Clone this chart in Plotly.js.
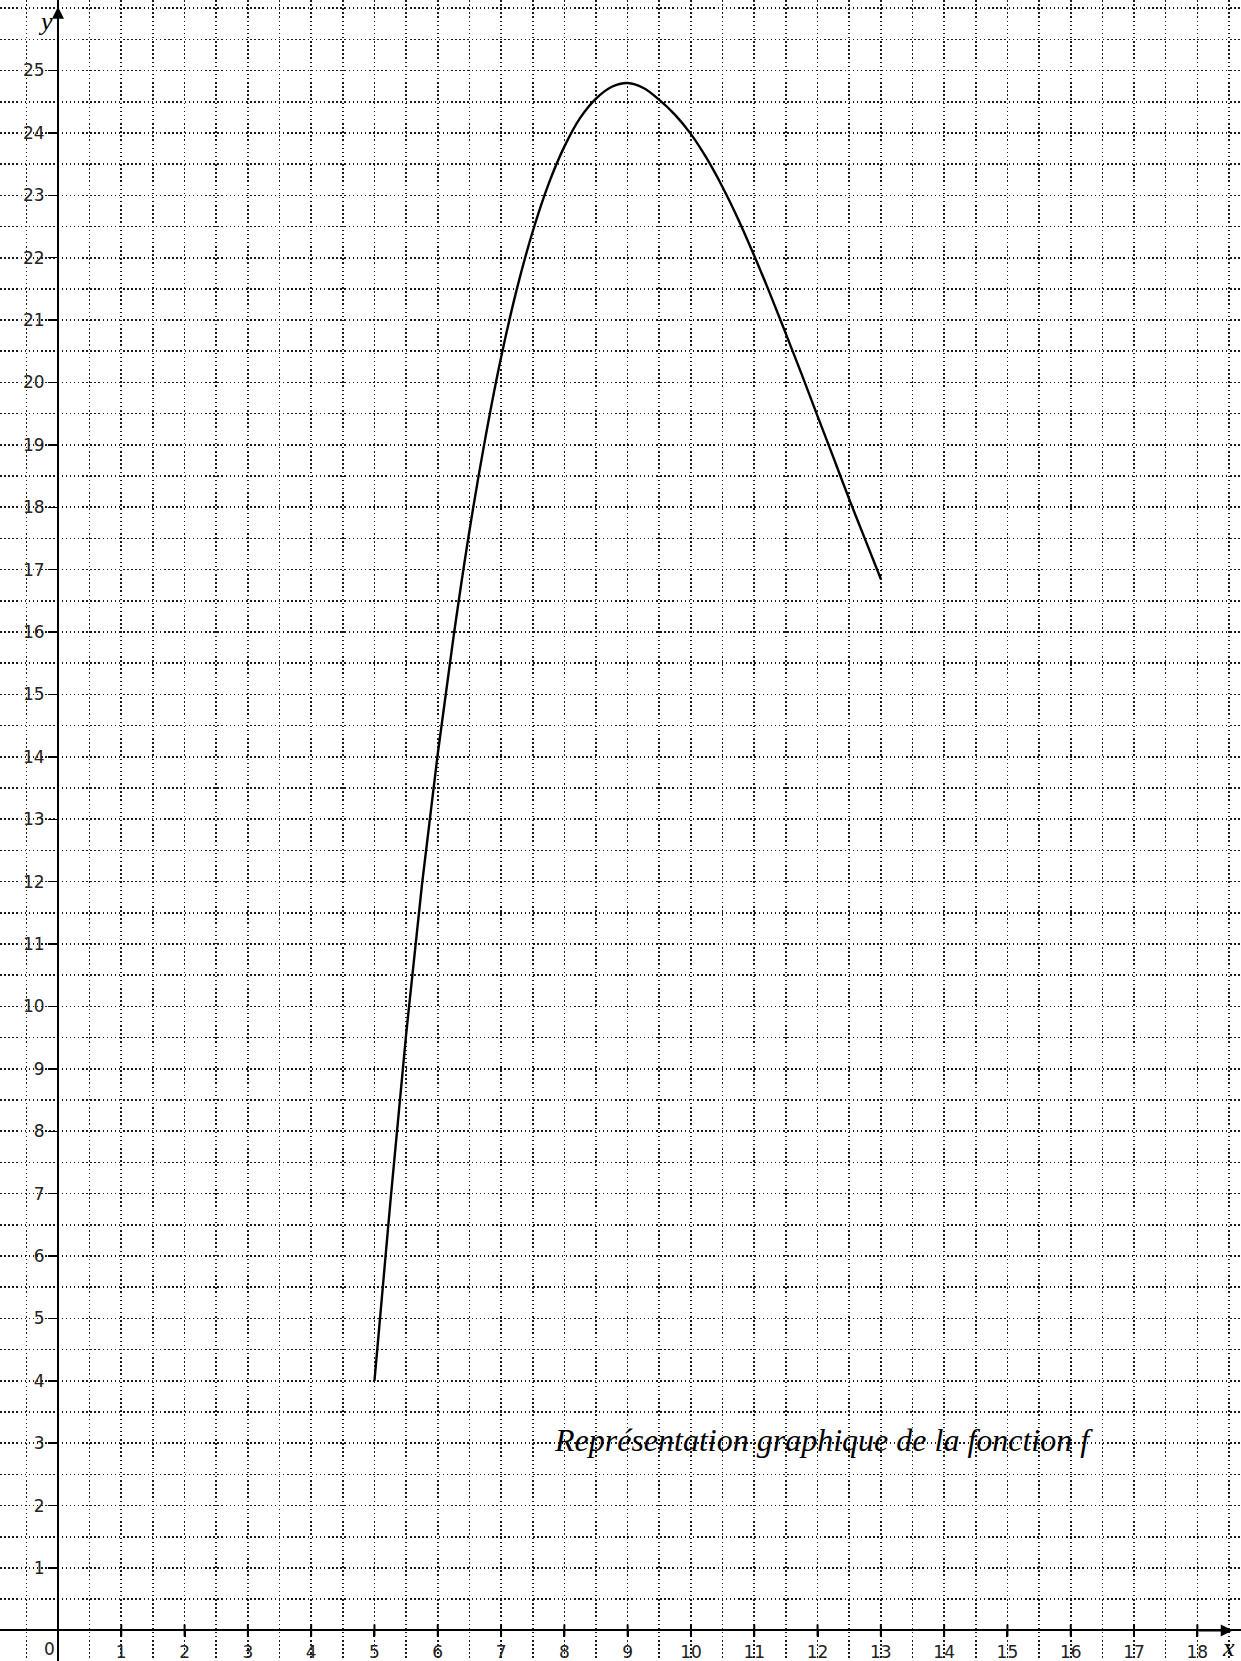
<!DOCTYPE html>
<html>
<head>
<meta charset="utf-8">
<script src="https://cdn.plot.ly/plotly-3.0.1.min.js"></script>
<style>html,body{margin:0;padding:0;background:#fff;}</style>
</head>
<body>
<div id="chart" style="width:1241px;height:1661px;"></div>
<script>
// Curve of f
const xVals = [5, 5.25, 5.5, 5.75, 6, 6.25, 6.5, 6.75, 7, 7.25, 7.5, 7.75, 8, 8.25, 8.5, 8.75, 9, 9.25, 9.5, 9.75, 10, 10.25, 10.5, 10.75, 11, 11.25, 11.5, 11.75, 12, 12.25, 12.5, 12.75, 13];
const yVals = [4.0, 6.85, 9.55, 11.95, 14.05, 15.93, 17.62, 19.1, 20.4, 21.5, 22.42, 23.18, 23.78, 24.24, 24.55, 24.74, 24.8, 24.72, 24.53, 24.29, 23.98, 23.59, 23.13, 22.61, 22.03, 21.42, 20.78, 20.13, 19.46, 18.8, 18.13, 17.49, 16.85];

// Tick labels
const xTickVals = [1,2,3,4,5,6,7,8,9,10,11,12,13,14,15,16,17,18];
const xTickText = xTickVals.map(String);
const yTickVals = [1,2,3,4,5,6,7,8,9,10,11,12,13,14,15,16,17,18,19,20,21,22,23,24,25];
const yTickText = yTickVals.map(String);
const originLabel = '0';
const xAxisName = 'x';
const yAxisName = 'y';
const captionText = 'Représentation graphique de la fonction f';

const xRange = [-0.916, 18.69];
const yRange = [-0.49, 26.13];

const gridStyle = {color: '#1a1a1a', width: 1.6, dash: '1.5px,2.6px'};

const trace = {
  x: xVals, y: yVals, type: 'scatter', mode: 'lines',
  line: {color: '#000', width: 2.4, shape: 'spline', smoothing: 1.0},
  hoverinfo: 'skip', showlegend: false
};

// crossing tick marks on the x axis
const shapes = xTickVals.map(v => ({
  type: 'line', xref: 'x', yref: 'y', x0: v, x1: v,
  ysizemode: 'pixel', yanchor: 0, y0: -6, y1: 6,
  line: {color: '#000', width: 2}
}));

const serif = 'Liberation Serif, Times New Roman, serif';
const annotations = [
  {x: -0.14, y: 0, xref: 'x', yref: 'y', text: originLabel, showarrow: false,
   yanchor: 'top', yshift: -7, font: {family: 'DejaVu Sans', size: 17, color: '#222'}},
  {x: -0.2, y: 25.78, xref: 'x', yref: 'y', text: yAxisName, showarrow: false,
   font: {family: serif, size: 26, color: '#000', style: 'italic'}},
  {x: 18.5, y: -0.28, xref: 'x', yref: 'y', text: xAxisName, showarrow: false,
   font: {family: serif, size: 26, color: '#000', style: 'italic'}},
  {x: 12.1, y: 3.05, xref: 'x', yref: 'y', text: captionText, showarrow: false,
   yanchor: 'middle', font: {family: serif, size: 32, color: '#000', style: 'italic'}},
  // axis arrows
  {x: 0, y: 26.02, ax: 0, ay: 25.4, xref: 'x', yref: 'y', axref: 'x', ayref: 'y',
   text: '', showarrow: true, arrowhead: 2, arrowsize: 1.2, arrowwidth: 2, arrowcolor: '#000'},
  {x: 18.56, y: 0, ax: 18.0, ay: 0, xref: 'x', yref: 'y', axref: 'x', ayref: 'y',
   text: '', showarrow: true, arrowhead: 2, arrowsize: 1.2, arrowwidth: 2, arrowcolor: '#000'}
];

const layout = {
  width: 1241, height: 1661,
  margin: {l: 0, r: 0, t: 0, b: 0, pad: 0},
  paper_bgcolor: '#fff', plot_bgcolor: '#fff',
  showlegend: false,
  xaxis: {
    range: xRange, anchor: 'free',
    position: (0 - yRange[0]) / (yRange[1] - yRange[0]),
    tickmode: 'array', tickvals: xTickVals, ticktext: xTickText,
    ticks: 'outside', ticklen: 6, tickwidth: 2, tickcolor: '#000',
    tickfont: {family: 'DejaVu Sans', size: 17, color: '#222'},
    showline: true, linecolor: '#000', linewidth: 2,
    zeroline: false,
    showgrid: true, gridcolor: gridStyle.color, gridwidth: gridStyle.width, griddash: gridStyle.dash,
    minor: {tickmode: 'linear', tick0: 0, dtick: 0.5, showgrid: true,
            gridcolor: gridStyle.color, gridwidth: gridStyle.width, griddash: gridStyle.dash, ticks: ''},
    fixedrange: true
  },
  yaxis: {
    range: yRange, anchor: 'free',
    position: (0 - xRange[0]) / (xRange[1] - xRange[0]),
    tickmode: 'array', tickvals: yTickVals, ticktext: yTickText,
    ticks: 'outside', ticklen: 9, tickwidth: 1.5, tickcolor: '#000',
    tickfont: {family: 'DejaVu Sans', size: 17, color: '#222'},
    showline: true, linecolor: '#000', linewidth: 2,
    zeroline: false,
    showgrid: true, gridcolor: gridStyle.color, gridwidth: gridStyle.width, griddash: gridStyle.dash,
    minor: {tickmode: 'linear', tick0: 0, dtick: 0.5, showgrid: true,
            gridcolor: gridStyle.color, gridwidth: gridStyle.width, griddash: gridStyle.dash, ticks: ''},
    fixedrange: true
  },
  shapes: shapes,
  annotations: annotations
};

Plotly.newPlot('chart', [trace], layout, {staticPlot: true, displayModeBar: false});
</script>
</body>
</html>
